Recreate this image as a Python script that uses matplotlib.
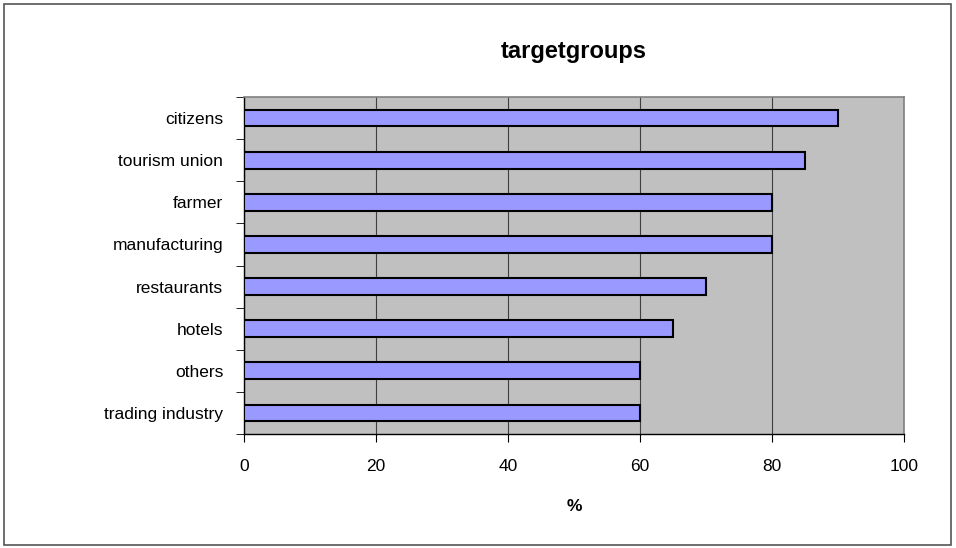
import matplotlib.pyplot as plt
from matplotlib.patches import Rectangle

# Data
groups = ['citizens', 'tourism union', 'farmer', 'manufacturing',
          'restaurants', 'hotels', 'others', 'trading industry']
percent = [90, 85, 80, 80, 70, 65, 60, 60]
x_ticks = [0, 20, 40, 60, 80, 100]

plt.rcParams['font.family'] = ['Liberation Sans', 'DejaVu Sans']

fig = plt.figure(figsize=(9.56, 5.48), dpi=100)
ax = fig.add_axes([0.2552, 0.208, 0.6904, 0.615])

pos = list(range(len(groups)))[::-1]
ax.barh(pos, percent, height=0.4, color='#9999ff', edgecolor='black', linewidth=1.5, zorder=3)

ax.set_facecolor('#c0c0c0')
ax.set_xlim(0, 100)
ax.set_ylim(-0.5, len(groups) - 0.5)
ax.set_xticks(x_ticks)
ax.set_xticklabels([str(t) for t in x_ticks], fontsize=12.5)
ax.set_yticks(pos)
ax.set_yticklabels(groups, fontsize=12.5)
ax.tick_params(axis='y', length=0, pad=15)
ax.set_yticks([p - 0.5 for p in range(len(groups) + 1)], minor=True)
ax.tick_params(axis='y', which='minor', length=6, direction='out', color='black')
ax.tick_params(axis='x', length=6, direction='out', pad=12, color='black')

ax.grid(True, axis='x', color='#404040', linewidth=0.8, zorder=1)
ax.set_axisbelow(True)

for side in ['top', 'right']:
    ax.spines[side].set_color('#808080')
    ax.spines[side].set_linewidth(1.2)
for side in ['left', 'bottom']:
    ax.spines[side].set_color('black')
    ax.spines[side].set_linewidth(1.0)

ax.set_xlabel('%', fontsize=12.5, fontweight='bold', labelpad=18)
ax.set_title('targetgroups', fontsize=17, fontweight='bold', pad=28)

# outer chart border
fig.patches.append(Rectangle((0.004, 0.005), 0.991, 0.988, transform=fig.transFigure,
                             fill=False, edgecolor='#555555', linewidth=1.2))

fig.savefig('out.png', dpi=100)
